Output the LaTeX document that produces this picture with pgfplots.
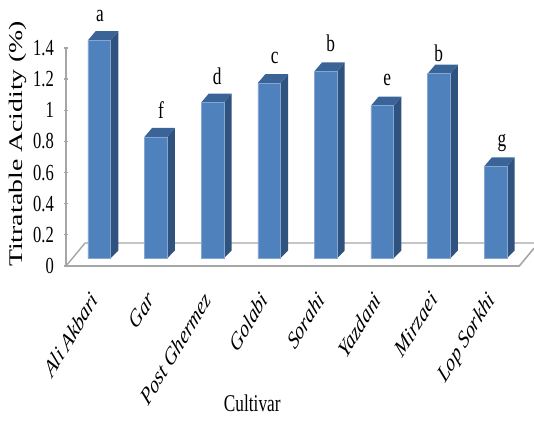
\documentclass[border=0pt]{standalone}
\usepackage{pgfplots}
\pgfplotsset{compat=1.18}
\usepackage{fontspec}
\setmainfont{Liberation Serif}
\newfontfamily\sq[FakeStretch=0.72]{Liberation Serif}
\newfontfamily\wide[FakeStretch=1.44]{Liberation Serif}
\definecolor{front}{HTML}{4F81BD}
\definecolor{side}{HTML}{30527F}
\definecolor{topf}{HTML}{3A6497}
\definecolor{floorc}{HTML}{A6A6A6}
\newcommand\threeD[2]{%
  \pgfmathsetmacro\xa{#1+0.2005}%
  \pgfmathsetmacro\xb{#1+0.2005+0.1355}%
  \pgfmathsetmacro\xc{#1-0.2005+0.1355}%
  \pgfmathsetmacro\xd{#1-0.2005}%
  \pgfmathsetmacro\yt{#2+0.0577}%
  \edef\temp{\noexpand\addplot[fill=side,draw=none] coordinates {(\xa,0)(\xb,0.05)(\xb,\yt)(\xa,#2)} --cycle;
  \noexpand\addplot[fill=topf,draw=none] coordinates {(\xd,#2)(\xa,#2)(\xb,\yt)(\xc,\yt)} --cycle;
  }\temp}
\begin{document}
\begin{tikzpicture}
\useasboundingbox (0,0) rectangle (534pt,420pt);
\begin{axis}[
  at={(66pt,154pt)},anchor=south west,
  width=468pt,height=218.3pt,scale only axis,
  xmin=-0.588,xmax=7.68,ymin=-0.0494,ymax=1.352,
  axis y line=left,axis x line=bottom,
  axis line style={-,draw=floorc,line width=1.2pt},
  x axis line style={draw=none},
  clip=false,
  xtick={0,...,7},
  xticklabels={Ali Akbari,Gar,Post Ghermez,Golabi,Sorahi,Yazdani,Mirzaei,Lop Sorkhi},
  xtick style={draw=none},
  xticklabel style={xshift=-10pt,yshift=-17pt,cm={.463,.766,-.551,.643,(0,0)},anchor=north east,font=\fontsize{24.5}{24.5}\selectfont\itshape},
  ytick={-0.0494,0.1506,0.3506,0.5506,0.7506,0.9506,1.1506,1.3506},
  yticklabels={0,0.2,0.4,0.6,0.8,1,1.2,1.4},
  ytick style={draw=floorc,line width=1.2pt},
  major tick length=4pt,
  yticklabel style={font=\sq\fontsize{23}{23}\selectfont,anchor=east,inner sep=1pt,xshift=-9pt},
  every axis y label/.style={at={(rel axis cs:-0.1026,0.56)},anchor=center,rotate=90},
  ylabel={\wide\fontsize{19.3}{19.3}\selectfont Titratable Acidity (\%)},
  every axis x label/.style={at={(rel axis cs:0.398,-0.63)},anchor=center},
  xlabel={\sq\fontsize{24}{24}\selectfont Cultivar},
]
% floor
\addplot[draw=floorc,line width=1.6pt] coordinates {(-0.588,-0.0494)(7.42,-0.0494)(7.68,0.0650)};
\addplot[draw=floorc,line width=1.4pt] coordinates {(-0.588,-0.0494)(-0.252,0.098)(7.68,0.098)};
% bars
\threeD{0}{1.40}
\threeD{1}{0.78}
\threeD{2}{1.00}
\threeD{3}{1.125}
\threeD{4}{1.20}
\threeD{5}{0.98}
\threeD{6}{1.185}
\threeD{7}{0.59}
\addplot[ybar,bar width=22.7pt,bar shift=0pt,fill=front,draw=front!70!white,line width=.5pt] table[x=i,y=v]{
i v
0 1.40
1 0.78
2 1.00
3 1.125
4 1.20
5 0.98
6 1.185
7 0.59
};
\foreach \px/\py/\s in {100/16/a,161/110/f,217.3/76/d,274.7/57.3/c,330.7/43.3/b,387.3/80/e,438.7/52.7/b,502/143/g}{
  \pgfmathsetmacro\dx{(\px-99.3)/56.6}
  \pgfmathsetmacro\dy{(258.3-\py)/156}
  \edef\temp{\noexpand\node[font=\noexpand\sq\noexpand\fontsize{24}{24}\noexpand\selectfont,inner sep=0pt] at (axis cs:\dx,\dy) {\s};}\temp
}
\end{axis}
\end{tikzpicture}
\end{document}
